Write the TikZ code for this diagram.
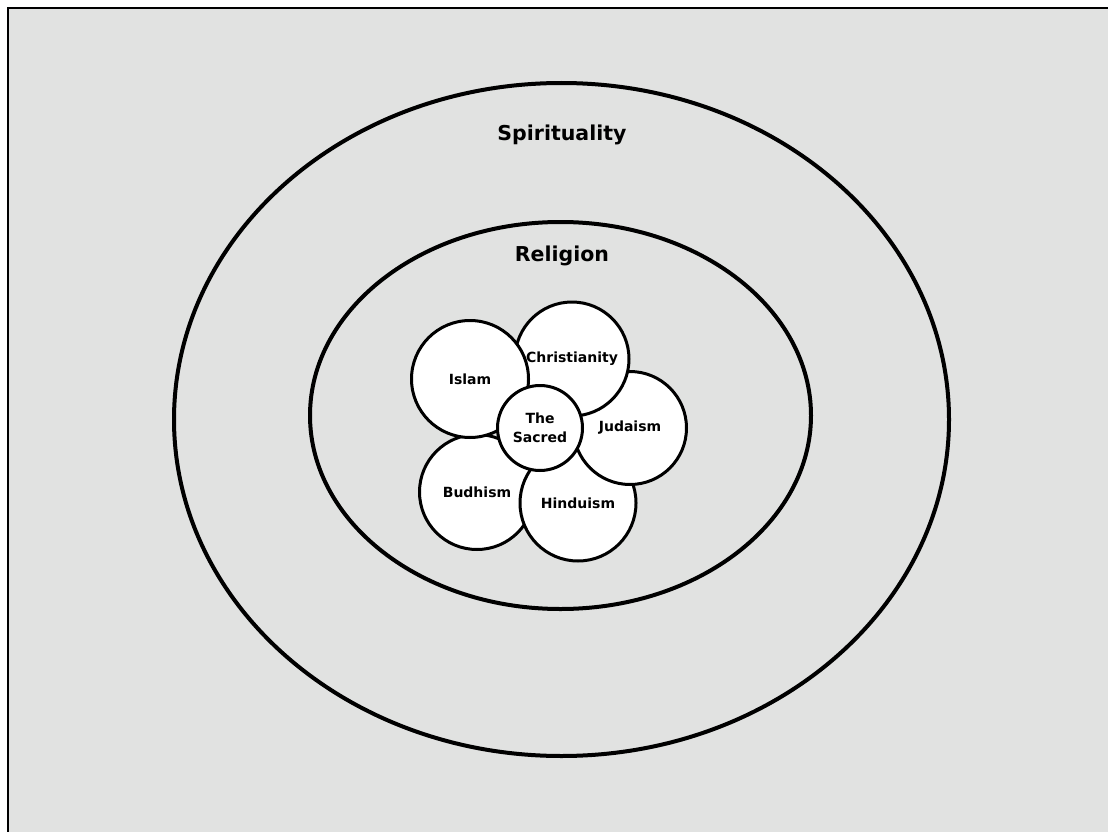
\documentclass[tikz,border=0pt]{standalone}
\usepackage{fontspec}
\setmainfont{DejaVu Sans}
\usetikzlibrary{positioning}
\definecolor{paper}{HTML}{E1E2E1}

\tikzset{
  faith/.style={circle, draw, line width=3pt, fill=white, inner sep=0pt,
    minimum size=#1, align=center, font=\bfseries\fontsize{14}{19}\selectfont},
  ring/.style={line width=4pt},
  title/.style={font=\bfseries\fontsize{20.5}{24}\selectfont}
}

\begin{document}
\begin{tikzpicture}[x=1pt,y=-1pt]
      \useasboundingbox (0,0) rectangle (1108,832);
      \fill[white] (0,0) rectangle (1108,832);
      \fill[paper] (8,8) rectangle (1108,832);
      \draw[line width=2.5pt] (8,832) -- (8,8) -- (1108,8);

      % the two rings
      \draw[ring] (561.5,419.5) ellipse [x radius=387.5, y radius=336.5];
      \draw[ring] (560.5,415.5) ellipse [x radius=250.5, y radius=193.5];
      \node[title] (spirit) at (562,135) {Spirituality};
      \node[title] (relig) at (562,256) {Religion};

      % the faiths round the sacred
      \node[faith=115pt] (budhism) at (477,492) {Budhism};
      \node[faith=116pt] (hinduism) at (578,503) {Hinduism};
      \node[faith=113pt] (judaism) at (630,428) {Judaism};
      \node[faith=114pt] (christ) at (572,359) {Christianity};
      \node[faith=117pt] (islam) at (470,379) {Islam};
      \node[faith=85pt] (sacred) at (540,428) {The\\Sacred};
\end{tikzpicture}
\end{document}
